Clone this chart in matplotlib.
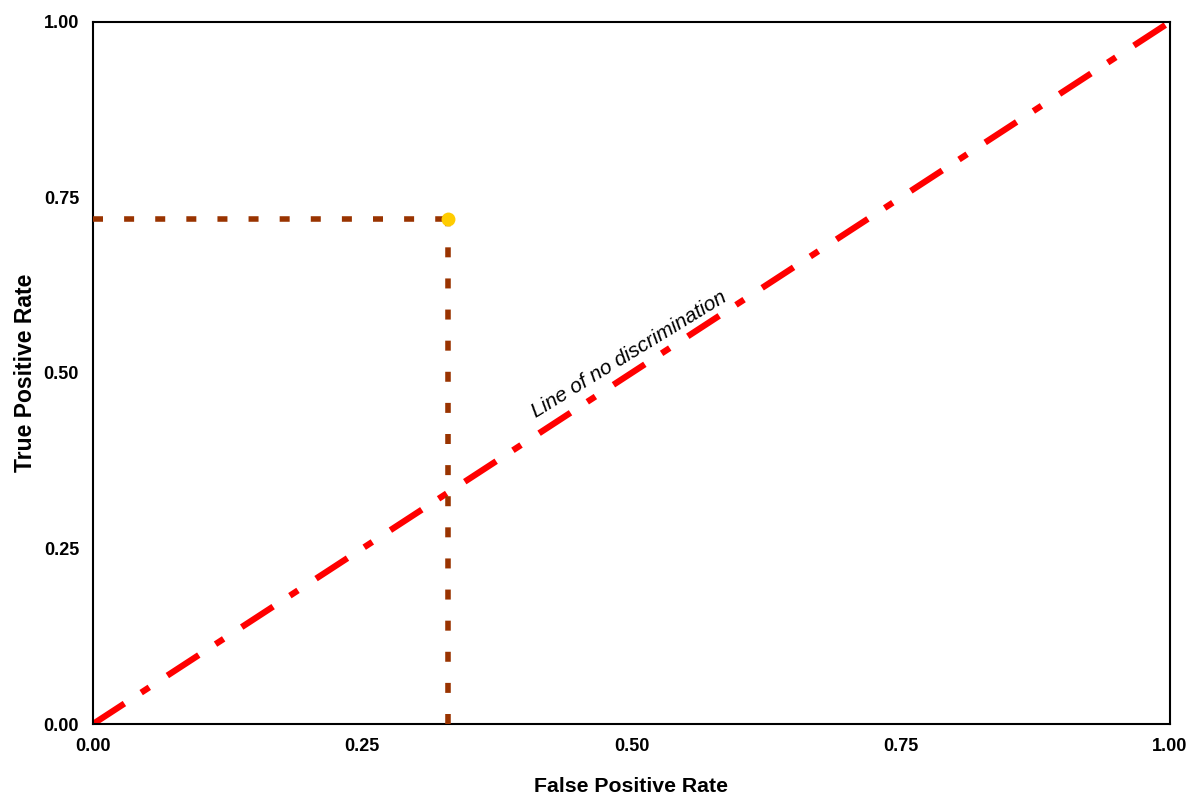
import matplotlib
matplotlib.use("Agg")
import matplotlib.pyplot as plt

plt.rcParams['font.family'] = ['Liberation Sans', 'DejaVu Sans']

diag_x = [0.0, 1.0]
diag_y = [0.0, 1.0]
point_fpr = 0.33
point_tpr = 0.72
ticks = [0.0, 0.25, 0.5, 0.75, 1.0]
tick_labels = ['0.00', '0.25', '0.50', '0.75', '1.00']

fig = plt.figure(figsize=(12, 8.05), dpi=100)
ax = fig.add_axes([0.0775, 0.1006, 0.8975, 0.8721])

ax.plot(diag_x, diag_y, color='#ff0000', lw=4.5, dashes=(6.0, 3.2, 1.55, 3.45),
        solid_capstyle='butt', dash_capstyle='butt', zorder=2)
ax.plot([0, point_fpr], [point_tpr, point_tpr], color='#993300', lw=4,
        dashes=(1.8, 3.8), zorder=3)
ax.plot([point_fpr, point_fpr], [0, point_tpr], color='#993300', lw=4,
        dashes=(1.8, 3.8), zorder=3)
ax.plot([point_fpr], [point_tpr], 'o', color='#ffcc00', markersize=10, zorder=4,
        markeredgewidth=0)

ax.text(0.5, 0.52, 'Line of no discrimination', style='italic', fontsize=15,
        rotation=31.5, rotation_mode='anchor', ha='center', va='baseline',
        transform=ax.transData)

ax.set_xlim(0, 1)
ax.set_ylim(0, 1)
ax.set_xticks(ticks)
ax.set_xticklabels(tick_labels, fontsize=13, fontweight='bold')
ax.set_yticks(ticks)
ax.set_yticklabels(tick_labels, fontsize=13, fontweight='bold')
ax.tick_params(length=0, pad=10)
for s in ax.spines.values():
    s.set_linewidth(1.5)
ax.set_xlabel('False Positive Rate', fontsize=15.3, fontweight='bold', labelpad=16)
ax.set_ylabel('True Positive Rate', fontsize=16.5, fontweight='bold', labelpad=5)

fig.savefig('out.png', dpi=100)
